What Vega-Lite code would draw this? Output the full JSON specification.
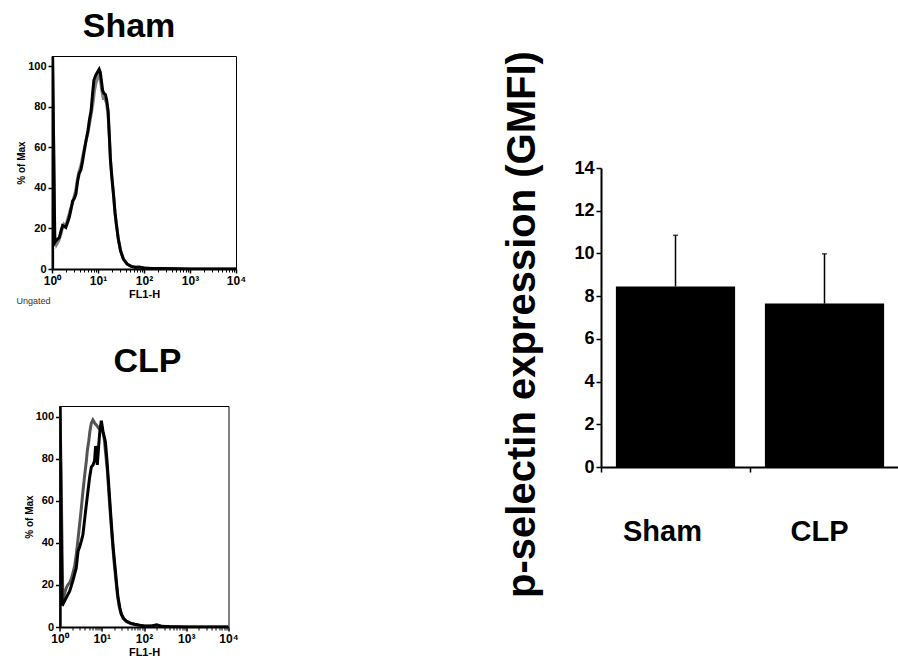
{
  "$schema": "https://vega.github.io/schema/vega-lite/v6.json",
  "padding": {"left": 15, "top": 9, "right": 0, "bottom": 0},
  "datasets": {
    "sham": [
      {"s": "g", "i": 0, "x": 1.03, "y": 0}, {"s": "g", "i": 1, "x": 1.03, "y": 105}, {"s": "g", "i": 2, "x": 1.15, "y": 16}, {"s": "g", "i": 3, "x": 1.25, "y": 12},
      {"s": "g", "i": 4, "x": 1.4, "y": 14}, {"s": "g", "i": 5, "x": 1.55, "y": 17}, {"s": "g", "i": 6, "x": 1.68, "y": 20}, {"s": "g", "i": 7, "x": 1.82, "y": 22},
      {"s": "g", "i": 8, "x": 1.98, "y": 21}, {"s": "g", "i": 9, "x": 2.15, "y": 24}, {"s": "g", "i": 10, "x": 2.35, "y": 27}, {"s": "g", "i": 11, "x": 2.55, "y": 30},
      {"s": "g", "i": 12, "x": 2.78, "y": 32}, {"s": "g", "i": 13, "x": 3.05, "y": 36}, {"s": "g", "i": 14, "x": 3.3, "y": 39}, {"s": "g", "i": 15, "x": 3.55, "y": 44},
      {"s": "g", "i": 16, "x": 3.85, "y": 48}, {"s": "g", "i": 17, "x": 4.25, "y": 51}, {"s": "g", "i": 18, "x": 4.6, "y": 55}, {"s": "g", "i": 19, "x": 5.0, "y": 59},
      {"s": "g", "i": 20, "x": 5.45, "y": 63}, {"s": "g", "i": 21, "x": 6.0, "y": 67}, {"s": "g", "i": 22, "x": 6.6, "y": 72}, {"s": "g", "i": 23, "x": 7.2, "y": 77},
      {"s": "g", "i": 24, "x": 7.8, "y": 82}, {"s": "g", "i": 25, "x": 8.4, "y": 88}, {"s": "g", "i": 26, "x": 9.1, "y": 92}, {"s": "g", "i": 27, "x": 9.8, "y": 94},
      {"s": "g", "i": 28, "x": 10.5, "y": 96}, {"s": "g", "i": 29, "x": 11.3, "y": 93}, {"s": "g", "i": 30, "x": 12.1, "y": 88}, {"s": "g", "i": 31, "x": 13.0, "y": 84},
      {"s": "g", "i": 32, "x": 14.0, "y": 84}, {"s": "g", "i": 33, "x": 15.2, "y": 82}, {"s": "g", "i": 34, "x": 16.4, "y": 77}, {"s": "g", "i": 35, "x": 17.8, "y": 64},
      {"s": "g", "i": 36, "x": 18.8, "y": 53}, {"s": "g", "i": 37, "x": 20.3, "y": 44}, {"s": "g", "i": 38, "x": 22.0, "y": 35}, {"s": "g", "i": 39, "x": 23.8, "y": 26},
      {"s": "g", "i": 40, "x": 25.5, "y": 21}, {"s": "g", "i": 41, "x": 28.0, "y": 14}, {"s": "g", "i": 42, "x": 31.5, "y": 8.5}, {"s": "g", "i": 43, "x": 36.0, "y": 4.5},
      {"s": "g", "i": 44, "x": 44.0, "y": 2.2}, {"s": "g", "i": 45, "x": 55.0, "y": 1.2}, {"s": "g", "i": 46, "x": 70, "y": 1.0}, {"s": "g", "i": 47, "x": 90, "y": 0.6},
      {"s": "g", "i": 48, "x": 130, "y": 0.3}, {"s": "g", "i": 49, "x": 300, "y": 0.2}, {"s": "g", "i": 50, "x": 1000, "y": 0}, {"s": "g", "i": 51, "x": 10000, "y": 0},
      {"s": "b", "i": 0, "x": 1.03, "y": 0}, {"s": "b", "i": 1, "x": 1.03, "y": 105}, {"s": "b", "i": 2, "x": 1.15, "y": 13}, {"s": "b", "i": 3, "x": 1.22, "y": 14},
      {"s": "b", "i": 4, "x": 1.44, "y": 15.5}, {"s": "b", "i": 5, "x": 1.58, "y": 19}, {"s": "b", "i": 6, "x": 1.7, "y": 21.5}, {"s": "b", "i": 7, "x": 1.86, "y": 21},
      {"s": "b", "i": 8, "x": 2.0, "y": 20.5}, {"s": "b", "i": 9, "x": 2.19, "y": 23}, {"s": "b", "i": 10, "x": 2.37, "y": 25.5}, {"s": "b", "i": 11, "x": 2.57, "y": 29},
      {"s": "b", "i": 12, "x": 2.8, "y": 33.5}, {"s": "b", "i": 13, "x": 3.09, "y": 35}, {"s": "b", "i": 14, "x": 3.31, "y": 37}, {"s": "b", "i": 15, "x": 3.59, "y": 43},
      {"s": "b", "i": 16, "x": 3.89, "y": 47}, {"s": "b", "i": 17, "x": 4.27, "y": 49}, {"s": "b", "i": 18, "x": 4.61, "y": 53}, {"s": "b", "i": 19, "x": 5.01, "y": 58},
      {"s": "b", "i": 20, "x": 5.46, "y": 63}, {"s": "b", "i": 21, "x": 6.03, "y": 68}, {"s": "b", "i": 22, "x": 6.55, "y": 74}, {"s": "b", "i": 23, "x": 7.08, "y": 78},
      {"s": "b", "i": 24, "x": 7.59, "y": 86}, {"s": "b", "i": 25, "x": 8.13, "y": 93}, {"s": "b", "i": 26, "x": 8.91, "y": 95.5}, {"s": "b", "i": 27, "x": 10.0, "y": 97.5},
      {"s": "b", "i": 28, "x": 10.6, "y": 98.5}, {"s": "b", "i": 29, "x": 11.2, "y": 97}, {"s": "b", "i": 30, "x": 12.0, "y": 92}, {"s": "b", "i": 31, "x": 12.6, "y": 88},
      {"s": "b", "i": 32, "x": 13.5, "y": 86.5}, {"s": "b", "i": 33, "x": 14.5, "y": 86}, {"s": "b", "i": 34, "x": 15.5, "y": 83}, {"s": "b", "i": 35, "x": 16.6, "y": 78},
      {"s": "b", "i": 36, "x": 17.6, "y": 66}, {"s": "b", "i": 37, "x": 18.6, "y": 54}, {"s": "b", "i": 38, "x": 20.0, "y": 45}, {"s": "b", "i": 39, "x": 21.9, "y": 36},
      {"s": "b", "i": 40, "x": 23.4, "y": 28}, {"s": "b", "i": 41, "x": 25.1, "y": 22}, {"s": "b", "i": 42, "x": 27.5, "y": 15}, {"s": "b", "i": 43, "x": 30.9, "y": 9},
      {"s": "b", "i": 44, "x": 35.5, "y": 5}, {"s": "b", "i": 45, "x": 42.7, "y": 2.5}, {"s": "b", "i": 46, "x": 52.5, "y": 1.3}, {"s": "b", "i": 47, "x": 65, "y": 0.8},
      {"s": "b", "i": 48, "x": 80, "y": 1.0}, {"s": "b", "i": 49, "x": 100, "y": 0.5}, {"s": "b", "i": 50, "x": 150, "y": 0.3}, {"s": "b", "i": 51, "x": 250, "y": 0.2},
      {"s": "b", "i": 52, "x": 500, "y": 0.1}, {"s": "b", "i": 53, "x": 1000, "y": 0}, {"s": "b", "i": 54, "x": 10000, "y": 0}
    ],
    "clp": [
      {"s": "g", "i": 0, "x": 1.03, "y": 0}, {"s": "g", "i": 1, "x": 1.03, "y": 105}, {"s": "g", "i": 2, "x": 1.2, "y": 12.3}, {"s": "g", "i": 3, "x": 1.32, "y": 16},
      {"s": "g", "i": 4, "x": 1.45, "y": 18.6}, {"s": "g", "i": 5, "x": 1.58, "y": 20}, {"s": "g", "i": 6, "x": 1.74, "y": 21}, {"s": "g", "i": 7, "x": 1.91, "y": 23},
      {"s": "g", "i": 8, "x": 2.08, "y": 25.7}, {"s": "g", "i": 9, "x": 2.29, "y": 29}, {"s": "g", "i": 10, "x": 2.49, "y": 34.4}, {"s": "g", "i": 11, "x": 2.72, "y": 41},
      {"s": "g", "i": 12, "x": 2.99, "y": 48.7}, {"s": "g", "i": 13, "x": 3.27, "y": 56}, {"s": "g", "i": 14, "x": 3.59, "y": 64.5}, {"s": "g", "i": 15, "x": 3.94, "y": 72},
      {"s": "g", "i": 16, "x": 4.31, "y": 78.7}, {"s": "g", "i": 17, "x": 4.57, "y": 84}, {"s": "g", "i": 18, "x": 4.9, "y": 88}, {"s": "g", "i": 19, "x": 5.25, "y": 93},
      {"s": "g", "i": 20, "x": 5.66, "y": 96.8}, {"s": "g", "i": 21, "x": 6.17, "y": 98.4}, {"s": "g", "i": 22, "x": 6.76, "y": 97}, {"s": "g", "i": 23, "x": 7.41, "y": 96},
      {"s": "g", "i": 24, "x": 8.43, "y": 94.5}, {"s": "g", "i": 25, "x": 9.12, "y": 95}, {"s": "g", "i": 26, "x": 9.77, "y": 96}, {"s": "g", "i": 27, "x": 10.5, "y": 93},
      {"s": "g", "i": 28, "x": 11.4, "y": 89.7}, {"s": "g", "i": 29, "x": 12.3, "y": 83}, {"s": "g", "i": 30, "x": 13.6, "y": 74}, {"s": "g", "i": 31, "x": 14.8, "y": 63},
      {"s": "g", "i": 32, "x": 16.2, "y": 51.8}, {"s": "g", "i": 33, "x": 17.8, "y": 41}, {"s": "g", "i": 34, "x": 19.5, "y": 31.3}, {"s": "g", "i": 35, "x": 21.4, "y": 23},
      {"s": "g", "i": 36, "x": 23.4, "y": 15.5}, {"s": "g", "i": 37, "x": 25.7, "y": 10}, {"s": "g", "i": 38, "x": 28.2, "y": 6.8}, {"s": "g", "i": 39, "x": 32.4, "y": 4},
      {"s": "g", "i": 40, "x": 38.4, "y": 2.5}, {"s": "g", "i": 41, "x": 50.1, "y": 1.5}, {"s": "g", "i": 42, "x": 87.1, "y": 0.5}, {"s": "g", "i": 43, "x": 126, "y": 0.4},
      {"s": "g", "i": 44, "x": 200, "y": 0.6}, {"s": "g", "i": 45, "x": 398, "y": 0.1}, {"s": "g", "i": 46, "x": 1000, "y": 0}, {"s": "g", "i": 47, "x": 10000, "y": 0},
      {"s": "b", "i": 0, "x": 1.03, "y": 0}, {"s": "b", "i": 1, "x": 1.03, "y": 105}, {"s": "b", "i": 2, "x": 1.15, "y": 11}, {"s": "b", "i": 3, "x": 1.2, "y": 10.7},
      {"s": "b", "i": 4, "x": 1.45, "y": 14}, {"s": "b", "i": 5, "x": 1.74, "y": 17}, {"s": "b", "i": 6, "x": 2.08, "y": 22}, {"s": "b", "i": 7, "x": 2.49, "y": 28},
      {"s": "b", "i": 8, "x": 2.75, "y": 36}, {"s": "b", "i": 9, "x": 2.99, "y": 38}, {"s": "b", "i": 10, "x": 3.31, "y": 41}, {"s": "b", "i": 11, "x": 3.59, "y": 44},
      {"s": "b", "i": 12, "x": 3.98, "y": 52}, {"s": "b", "i": 13, "x": 4.31, "y": 58}, {"s": "b", "i": 14, "x": 4.68, "y": 64}, {"s": "b", "i": 15, "x": 5.16, "y": 71},
      {"s": "b", "i": 16, "x": 5.66, "y": 76}, {"s": "b", "i": 17, "x": 6.21, "y": 77}, {"s": "b", "i": 18, "x": 6.76, "y": 79}, {"s": "b", "i": 19, "x": 7.16, "y": 86},
      {"s": "b", "i": 20, "x": 7.5, "y": 84}, {"s": "b", "i": 21, "x": 7.85, "y": 77}, {"s": "b", "i": 22, "x": 8.32, "y": 84}, {"s": "b", "i": 23, "x": 8.91, "y": 92},
      {"s": "b", "i": 24, "x": 9.77, "y": 98}, {"s": "b", "i": 25, "x": 10.7, "y": 93}, {"s": "b", "i": 26, "x": 12.2, "y": 88}, {"s": "b", "i": 27, "x": 13.2, "y": 80},
      {"s": "b", "i": 28, "x": 14.1, "y": 72}, {"s": "b", "i": 29, "x": 15.5, "y": 60}, {"s": "b", "i": 30, "x": 16.9, "y": 49}, {"s": "b", "i": 31, "x": 18.6, "y": 38},
      {"s": "b", "i": 32, "x": 20.3, "y": 30}, {"s": "b", "i": 33, "x": 22.4, "y": 21}, {"s": "b", "i": 34, "x": 24.3, "y": 14}, {"s": "b", "i": 35, "x": 26.9, "y": 9},
      {"s": "b", "i": 36, "x": 29.2, "y": 6}, {"s": "b", "i": 37, "x": 33.1, "y": 4}, {"s": "b", "i": 38, "x": 38.4, "y": 2.8}, {"s": "b", "i": 39, "x": 47.9, "y": 1.8},
      {"s": "b", "i": 40, "x": 60.3, "y": 1.3}, {"s": "b", "i": 41, "x": 79.4, "y": 0.8}, {"s": "b", "i": 42, "x": 105, "y": 0.5}, {"s": "b", "i": 43, "x": 158, "y": 0.6},
      {"s": "b", "i": 44, "x": 200, "y": 1.0}, {"s": "b", "i": 45, "x": 251, "y": 0.4}, {"s": "b", "i": 46, "x": 398, "y": 0.2}, {"s": "b", "i": 47, "x": 1000, "y": 0},
      {"s": "b", "i": 48, "x": 10000, "y": 0}
    ],
    "bars": [
      {"group": "Sham", "mean": 8.45, "upper": 10.85},
      {"group": "CLP", "mean": 7.65, "upper": 9.98}
    ]
  },
  "hconcat": [
    {
      "vconcat": [
        {
          "width": 184, "height": 213,
          "view": {"stroke": "black", "strokeWidth": 1},
          "title": {"text": "Sham", "fontSize": 34, "fontWeight": "bold", "anchor": "middle", "dx": -15, "offset": -15, "baseline": "alphabetic"},
          "data": {"name": "sham"},
          "layer": [
            {
              "transform": [{"filter": "datum.s === 'g'"}],
              "mark": {"type": "line", "color": "#808080", "strokeWidth": 3, "clip": true},
              "encoding": {
                "x": {"field": "x", "type": "quantitative", "scale": {"type": "log", "domain": [1, 10000]},
                  "axis": {"orient": "bottom", "values": [2,3,4,5,6,7,8,9,20,30,40,50,60,70,80,90,200,300,400,500,600,700,800,900,2000,3000,4000,5000,6000,7000,8000,9000], "labels": false, "domain": false, "tickSize": 3, "tickWidth": 1, "title": "Ungated", "titleX": -36, "titleY": 27, "titleAlign": "left", "titleBaseline": "top", "titleFontSize": 9, "titleFontWeight": "normal", "titleColor": "#333333"}},
                "y": {"field": "y", "type": "quantitative", "scale": {"domain": [0, 105]}, "title": "% of Max",
                  "axis": {"values": [0, 20, 40, 60, 80, 100], "labelFontSize": 11, "labelFontWeight": "bold", "tickSize": 4, "tickWidth": 1.5, "domainWidth": 2, "labelPadding": 2, "titleFontSize": 10, "titleFontWeight": "bold", "titlePadding": 1}},
                "order": {"field": "i", "type": "quantitative"}
              }
            },
            {
              "transform": [{"filter": "datum.s === 'b'"}],
              "mark": {"type": "line", "color": "black", "strokeWidth": 3, "clip": true},
              "encoding": {
                "x": {"field": "x", "type": "quantitative", "scale": {"type": "log", "domain": [1, 10000]}, "title": "FL1-H",
                  "axis": {"orient": "bottom", "values": [1, 10, 100, 1000, 10000], "labelExpr": "'10' + ['⁰','¹','²','³','⁴'][round(log(datum.value)/LN10)]", "labelFlush": false, "labelOverlap": false, "labelFontSize": 12, "labelFontWeight": "bold", "tickSize": 4, "tickWidth": 1.5, "domainWidth": 2, "labelPadding": 2, "titleFontSize": 11, "titleFontWeight": "bold", "titlePadding": 2}},
                "y": {"field": "y", "type": "quantitative", "scale": {"domain": [0, 105]}, "title": "% of Max",
                  "axis": {"values": [0, 20, 40, 60, 80, 100], "labelFontSize": 11, "labelFontWeight": "bold", "tickSize": 4, "tickWidth": 1.5, "domainWidth": 2, "labelPadding": 2, "titleFontSize": 10, "titleFontWeight": "bold", "titlePadding": 1}},
                "order": {"field": "i", "type": "quantitative"}
              }
            }
          ],
          "resolve": {"scale": {"x": "independent"}, "axis": {"x": "independent"}}
        },
        {
          "width": 169, "height": 221,
          "view": {"stroke": "black", "strokeWidth": 1},
          "title": {"text": "CLP", "fontSize": 34, "fontWeight": "bold", "anchor": "middle", "dx": 3.5, "offset": 0, "baseline": "alphabetic"},
          "data": {"name": "clp"},
          "layer": [
            {
              "transform": [{"filter": "datum.s === 'g'"}],
              "mark": {"type": "line", "color": "#555555", "strokeWidth": 3, "clip": true},
              "encoding": {
                "x": {"field": "x", "type": "quantitative", "scale": {"type": "log", "domain": [1, 10000]}, "title": null,
                  "axis": {"orient": "bottom", "values": [2,3,4,5,6,7,8,9,20,30,40,50,60,70,80,90,200,300,400,500,600,700,800,900,2000,3000,4000,5000,6000,7000,8000,9000], "labels": false, "domain": false, "tickSize": 3, "tickWidth": 1, "title": null}},
                "y": {"field": "y", "type": "quantitative", "scale": {"domain": [0, 105]}, "title": "% of Max",
                  "axis": {"values": [0, 20, 40, 60, 80, 100], "labelFontSize": 11, "labelFontWeight": "bold", "tickSize": 4, "tickWidth": 1.5, "domainWidth": 2, "labelPadding": 2, "titleFontSize": 10, "titleFontWeight": "bold", "titlePadding": 1}},
                "order": {"field": "i", "type": "quantitative"}
              }
            },
            {
              "transform": [{"filter": "datum.s === 'b'"}],
              "mark": {"type": "line", "color": "black", "strokeWidth": 3, "clip": true},
              "encoding": {
                "x": {"field": "x", "type": "quantitative", "scale": {"type": "log", "domain": [1, 10000]}, "title": "FL1-H",
                  "axis": {"orient": "bottom", "values": [1, 10, 100, 1000, 10000], "labelExpr": "'10' + ['⁰','¹','²','³','⁴'][round(log(datum.value)/LN10)]", "labelFlush": false, "labelOverlap": false, "labelFontSize": 12, "labelFontWeight": "bold", "tickSize": 4, "tickWidth": 1.5, "domainWidth": 2, "labelPadding": 2, "titleFontSize": 11, "titleFontWeight": "bold", "titlePadding": 2}},
                "y": {"field": "y", "type": "quantitative", "scale": {"domain": [0, 105]}, "title": "% of Max",
                  "axis": {"values": [0, 20, 40, 60, 80, 100], "labelFontSize": 11, "labelFontWeight": "bold", "tickSize": 4, "tickWidth": 1.5, "domainWidth": 2, "labelPadding": 2, "titleFontSize": 10, "titleFontWeight": "bold", "titlePadding": 1}},
                "order": {"field": "i", "type": "quantitative"}
              }
            }
          ],
          "resolve": {"scale": {"x": "independent"}, "axis": {"x": "independent"}}
        }
      ],
      "bounds": "flush",
      "center": true,
      "spacing": 137
    },
    {
      "vconcat": [
        {
          "width": 298, "height": 100,
          "data": {"values": []},
          "mark": {"type": "point", "opacity": 0}
        },
        {
          "width": 298, "height": 299,
          "data": {"name": "bars"},
          "layer": [
            {
              "mark": {"type": "bar", "color": "black", "width": {"band": 0.8}},
              "encoding": {
                "x": {"field": "group", "type": "nominal", "sort": null, "scale": {"paddingInner": 0, "paddingOuter": 0}, "title": null,
                  "axis": {"labelAngle": 0, "ticks": false, "domainWidth": 2, "labelFontSize": 29, "labelFontWeight": "bold", "labelPadding": 50, "labelBaseline": "top",
                    "labelOffset": {"condition": {"test": "datum.value === 'Sham'", "value": -13}, "value": -5}}},
                "y": {"field": "mean", "type": "quantitative", "scale": {"domain": [0, 14]}, "title": "p-selectin expression (GMFI)",
                  "axis": {"values": [0, 2, 4, 6, 8, 10, 12, 14], "labelFontSize": 18, "labelFontWeight": "bold", "tickSize": 5, "tickWidth": 1.5, "domainWidth": 2, "labelPadding": 2, "titleFontSize": 40, "titleFontWeight": "bold", "titleX": -59, "titleY": 156}}
              }
            },
            {
              "mark": {"type": "rule", "color": "black", "strokeWidth": 1.5},
              "encoding": {
                "x": {"field": "group", "type": "nominal", "sort": null, "scale": {"paddingInner": 0, "paddingOuter": 0}, "title": null,
                  "axis": {"orient": "bottom", "labels": false, "domain": false, "bandPosition": 0, "tickSize": 5, "tickWidth": 1.5}},
                "y": {"field": "mean", "type": "quantitative", "title": "p-selectin expression (GMFI)"},
                "y2": {"field": "upper"}
              }
            },
            {
              "mark": {"type": "tick", "color": "black", "orient": "horizontal", "size": 5, "thickness": 1.5},
              "encoding": {
                "x": {"field": "group", "type": "nominal", "sort": null, "scale": {"paddingInner": 0, "paddingOuter": 0}, "title": null, "axis": null},
                "y": {"field": "upper", "type": "quantitative", "title": "p-selectin expression (GMFI)"}
              }
            }
          ],
          "resolve": {"scale": {"x": "independent"}, "axis": {"x": "independent"}}
        }
      ],
      "bounds": "flush",
      "spacing": 12
    }
  ],
  "spacing": 254,
  "config": {
    "font": "Liberation Sans",
    "view": {"stroke": null},
    "axis": {"grid": false, "domainColor": "black", "tickColor": "black", "labelColor": "black", "titleColor": "black"},
    "title": {"color": "black"}
  }
}
